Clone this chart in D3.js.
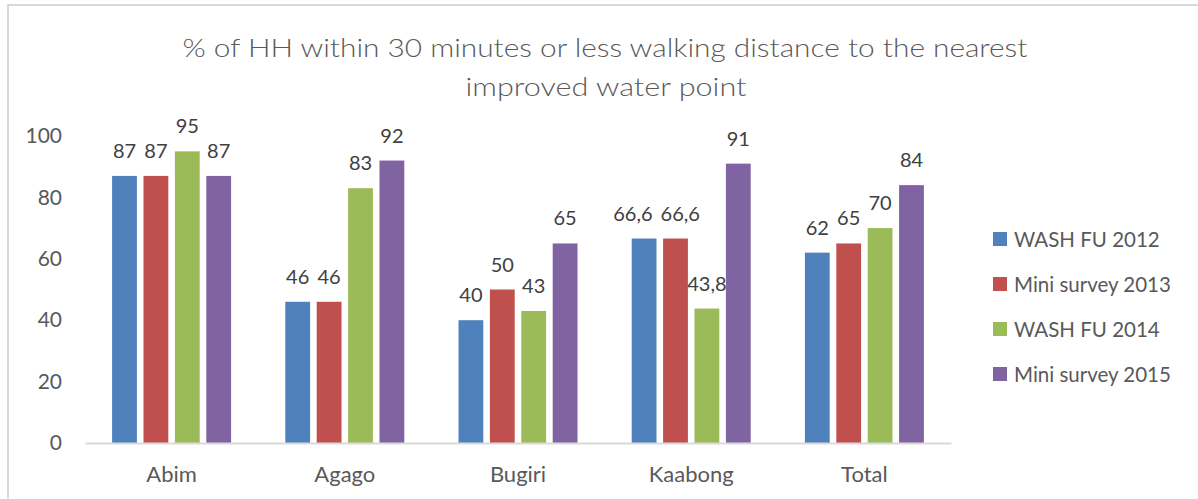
<!DOCTYPE html>
<html>
<head>
<meta charset="utf-8">
<script src="https://cdn.jsdelivr.net/npm/d3@7"></script>
<style>
  body { margin: 0; background: #fff; }
  text { font-family: Lato, "Open Sans", sans-serif; fill: #595959; }
</style>
</head>
<body>
<div id="chart"></div>
<script>
// chart data
var categories = ["Abim", "Agago", "Bugiri", "Kaabong", "Total"];
var seriesNames = ["WASH FU 2012", "Mini survey 2013", "WASH FU 2014", "Mini survey 2015"];
var wash2012 = [87, 46, 40, 66.6, 62];
var mini2013 = [87, 46, 50, 66.6, 65];
var wash2014 = [95, 83, 43, 43.8, 70];
var mini2015 = [87, 92, 65, 91, 84];
var yTicks = [0, 20, 40, 60, 80, 100];

var seriesValues = [wash2012, mini2013, wash2014, mini2015];
var colors = ["#4F81BD", "#C0504D", "#9BBB59", "#8064A2"];

var svgWidth = 1198;
var svgHeight = 499;

var svg = d3.select("#chart")
    .append("svg")
    .attr("width", svgWidth)
    .attr("height", svgHeight);

// frame (only top and left edges visible in the crop)
svg.append("line")
    .attr("x1", 7).attr("x2", svgWidth).attr("y1", 5).attr("y2", 5)
    .attr("stroke", "#d9d9d9").attr("stroke-width", 2);
svg.append("line")
    .attr("x1", 8).attr("x2", 8).attr("y1", 4).attr("y2", svgHeight)
    .attr("stroke", "#d9d9d9").attr("stroke-width", 2);

// title
var title = svg.append("text")
    .attr("text-anchor", "middle")
    .style("font-size", "25px")
    .style("font-weight", 300)
    .style("fill", "#595959");
title.append("tspan")
    .attr("x", 605).attr("y", 57)
    .attr("textLength", 845).attr("lengthAdjust", "spacingAndGlyphs")
    .text("% of HH within 30 minutes or less walking distance to the nearest");
title.append("tspan")
    .attr("x", 606).attr("y", 96)
    .attr("textLength", 281).attr("lengthAdjust", "spacingAndGlyphs")
    .text("improved water point");

// scales
var x0 = d3.scaleBand()
    .domain(categories)
    .range([85, 951]);

var groupWidth = 119;
var x1 = d3.scaleBand()
    .domain(seriesNames)
    .range([(x0.bandwidth() - groupWidth) / 2, (x0.bandwidth() + groupWidth) / 2])
    .paddingInner(0.21);

var y = d3.scaleLinear()
    .domain([0, 100])
    .range([443, 136]);

// y axis labels
var leftAxis = d3.axisLeft(y).tickValues(yTicks).tickSize(0).tickPadding(0);
var yAxis = svg.append("g")
    .attr("transform", "translate(62, 0)")
    .call(leftAxis);
yAxis.select(".domain").remove();
yAxis.selectAll("text")
    .style("font-size", "21px")
    .style("font-family", "Lato, sans-serif")
    .attr("fill", "#595959");

// bars
var labelFormat = d3.formatLocale({ decimal: ",", thousands: ".", grouping: [3], currency: ["", ""] }).format("~g");
var allLabels = [];

seriesNames.forEach(function(name, i) {
    var rows = categories.map(function(c, j) {
        return { category: c, value: seriesValues[i][j] };
    });

    var g = svg.append("g");

    g.selectAll("rect")
        .data(rows)
        .enter()
        .append("rect")
        .attr("x", d => x0(d.category) + x1(name))
        .attr("y", d => y(d.value))
        .attr("width", x1.bandwidth())
        .attr("height", d => y(0) - y(d.value))
        .attr("fill", colors[i]);

    g.selectAll("text")
        .data(rows)
        .enter()
        .append("text")
        .attr("x", d => x0(d.category) + x1(name) + x1.bandwidth() / 2)
        .attr("y", d => y(d.value) - 18)
        .attr("text-anchor", "middle")
        .style("font-size", "20px")
        .style("fill", "#404040")
        .text(d => labelFormat(d.value))
        .each(function(d) { allLabels.push({ node: this, d: d, series: i }); });
});

// push apart neighbouring labels that collide
categories.forEach(function(c) {
    var labs = allLabels.filter(l => l.d.category === c).sort((a, b) => a.series - b.series);
    for (var k = 0; k < labs.length - 1; k++) {
        var a = labs[k], b = labs[k + 1];
        if (Math.abs(a.d.value - b.d.value) > 4) continue;
        var ba = a.node.getBBox(), bb = b.node.getBBox();
        var overlap = ba.x + ba.width + 8 - bb.x;
        if (overlap > 0) {
            d3.select(a.node).attr("x", +d3.select(a.node).attr("x") - overlap * 0.7);
            d3.select(b.node).attr("x", +d3.select(b.node).attr("x") + overlap * 0.3);
        }
    }
});

// x axis
var bottomAxis = d3.axisBottom(x0).tickSize(0).tickPadding(0);
var xAxis = svg.append("g")
    .attr("transform", "translate(0, 443)")
    .call(bottomAxis);
xAxis.select(".domain")
    .attr("stroke", "#d9d9d9")
    .attr("stroke-width", 2);
xAxis.selectAll("text")
    .attr("dy", 0)
    .attr("y", 39)
    .style("font-size", "22px")
    .style("font-family", "Lato, sans-serif")
    .attr("fill", "#595959");

// legend
var legend = svg.append("g")
    .attr("transform", "translate(993, 239)");

var legendItems = legend.selectAll("g")
    .data(seriesNames)
    .enter()
    .append("g")
    .attr("transform", (d, i) => `translate(0, ${i * 45})`);

legendItems.append("rect")
    .attr("x", 0)
    .attr("y", -7)
    .attr("width", 14)
    .attr("height", 14)
    .attr("fill", (d, i) => colors[i]);

legendItems.append("text")
    .attr("x", 21)
    .attr("y", 7.5)
    .style("font-size", "20.5px")
    .text(d => d);
</script>
</body>
</html>
